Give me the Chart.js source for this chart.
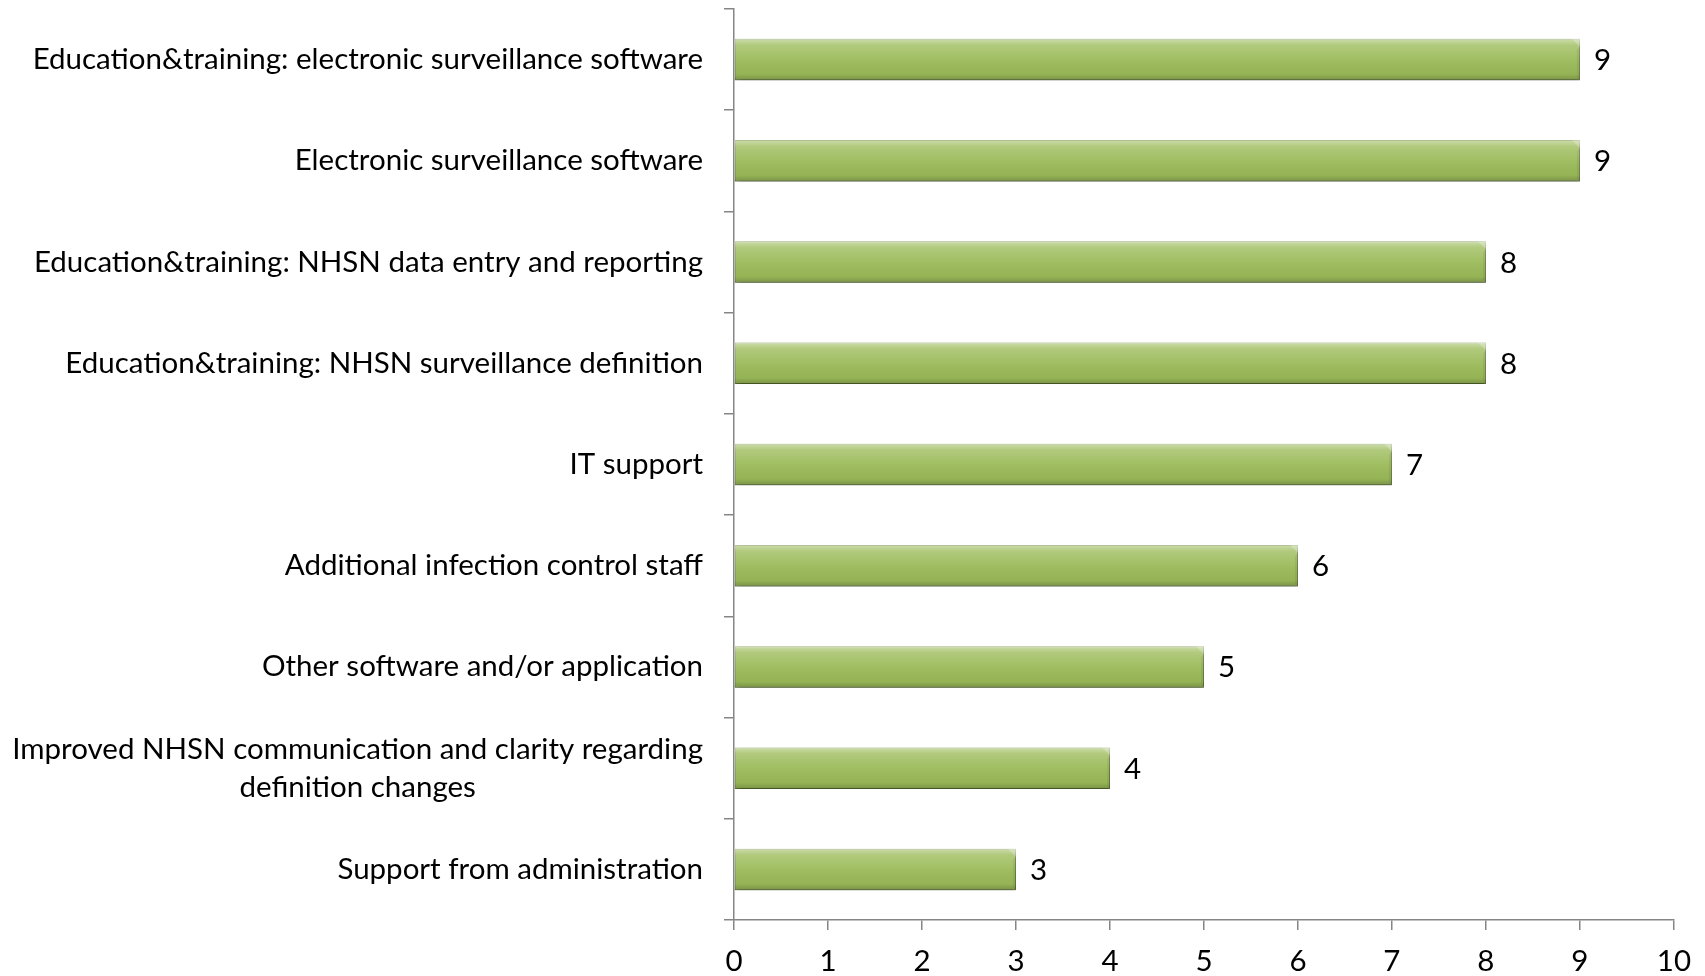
<!DOCTYPE html>
<html>
<head>
<meta charset="utf-8">
<script src="https://cdn.jsdelivr.net/npm/chart.js@4.4.1/dist/chart.umd.min.js"></script>
<style>
  html, body { margin: 0; padding: 0; background: #fff; }
  #wrap { position: relative; width: 1705px; height: 976px; }
</style>
</head>
<body>
<div id="wrap"><canvas id="chart"></canvas></div>
<script>
const categories = [
  ["Education&training: electronic surveillance software"],
  ["Electronic surveillance software"],
  ["Education&training: NHSN data entry and reporting"],
  ["Education&training: NHSN surveillance definition"],
  ["IT support"],
  ["Additional infection control staff"],
  ["Other software and/or application"],
  ["Improved NHSN communication and clarity regarding", "definition changes"],
  ["Support from administration"]
];
const counts = [9, 9, 8, 8, 7, 6, 5, 4, 3];
const xTicks = [0, 1, 2, 3, 4, 5, 6, 7, 8, 9, 10];

const FONT = "Lato, 'Open Sans', sans-serif";
const FS = 29.5;
const AXIS = "#868686";

// soft shadow under bars, then shading + value labels on top
const barPlugin = {
  id: "barLook",
  beforeDatasetsDraw(chart) {
    const c = chart.ctx;
    c.save();
    c.shadowColor = "rgba(0,0,0,0.35)";
    c.shadowBlur = 6;
    c.shadowOffsetY = 3;
    c.shadowOffsetX = 1;
  },
  afterDatasetsDraw(chart) {
    chart.ctx.restore();
    const c = chart.ctx;
    const meta = chart.getDatasetMeta(0);
    meta.data.forEach((bar, i) => {
      const top = bar.y - bar.height / 2, h = bar.height;
      const left = bar.base, w = bar.x - bar.base;
      const g = c.createLinearGradient(0, top, 0, top + h);
      g.addColorStop(0, "rgba(255,255,255,0.5)");
      g.addColorStop(0.15, "rgba(255,255,255,0.22)");
      g.addColorStop(0.5, "rgba(255,255,255,0.05)");
      g.addColorStop(0.85, "rgba(0,0,0,0.04)");
      g.addColorStop(1, "rgba(0,0,0,0.22)");
      c.save();
      c.fillStyle = g;
      c.fillRect(left, top, w, h);
      // bevel at the right end: light corner on top, darker face below
      const b = 8;
      c.fillStyle = "rgba(255,255,255,0.25)";
      c.beginPath();
      c.moveTo(left + w - b, top); c.lineTo(left + w, top); c.lineTo(left + w, top + b);
      c.fill();
      c.fillStyle = "rgba(0,0,0,0.06)";
      c.beginPath();
      c.moveTo(left + w, top + b); c.lineTo(left + w - 3, top + b + 3); c.lineTo(left + w - 3, top + h - 3); c.lineTo(left + w, top + h);
      c.fill();
      c.restore();

      c.save();
      c.font = FS + "px " + FONT;
      c.fillStyle = "#000";
      c.textAlign = "left";
      c.textBaseline = "middle";
      c.fillText(String(counts[i]), bar.x + 14, bar.y + 1);
      c.restore();
    });
  }
};

// category labels, each block right aligned, lines centred inside it
const catLabelPlugin = {
  id: "catLabels",
  afterDraw(chart) {
    const c = chart.ctx;
    const ys = chart.scales.y;
    const right = 703, lh = 38;
    c.save();
    c.font = FS + "px " + FONT;
    c.fillStyle = "#000";
    c.textBaseline = "middle";
    c.textAlign = "center";
    categories.forEach((lines, i) => {
      const w = Math.max(...lines.map(l => c.measureText(l).width));
      const cx = right - w / 2;
      const y0 = ys.getPixelForValue(i) - (lines.length - 1) * lh / 2;
      lines.forEach((l, k) => c.fillText(l, cx, y0 + k * lh));
    });
    c.restore();
  }
};

new Chart(document.getElementById("chart"), {
  type: "bar",
  data: {
    labels: categories,
    datasets: [{
      data: counts,
      backgroundColor: "#9bbb59",
      borderColor: "#76923c",
      borderWidth: 1,
      borderSkipped: false,
      categoryPercentage: 1,
      barPercentage: 0.41
    }]
  },
  options: {
    indexAxis: "y",
    responsive: true,
    maintainAspectRatio: false,
    animation: false,
    layout: { padding: { top: 9, right: 30, left: 0, bottom: 0 } },
    plugins: { legend: { display: false }, tooltip: { enabled: false } },
    scales: {
      x: {
        min: 0, max: 10,
        afterBuildTicks: s => { s.ticks = xTicks.map(v => ({ value: v })); },
        afterFit: s => { s.height = 56; },
        ticks: { color: "#000", font: { family: FONT, size: FS }, padding: 14 },
        grid: { drawOnChartArea: false, tickLength: 10, color: AXIS, lineWidth: 1.5 },
        border: { color: AXIS, width: 1.5 }
      },
      y: {
        afterFit: s => { s.width = 734; },
        ticks: { display: false },
        grid: { drawOnChartArea: false, tickLength: 10, color: AXIS, lineWidth: 1.5, offset: true },
        border: { color: AXIS, width: 1.5 }
      }
    }
  },
  plugins: [barPlugin, catLabelPlugin]
});
</script>
</body>
</html>
